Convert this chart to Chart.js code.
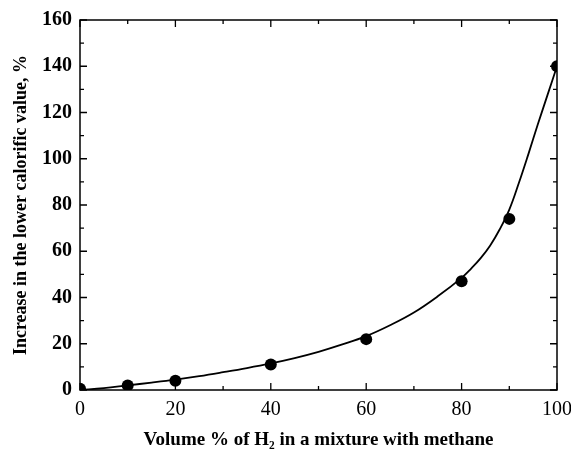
<!DOCTYPE html>
<html>
<head>
<meta charset="utf-8">
<script src="https://cdn.jsdelivr.net/npm/chart.js@4/dist/chart.umd.min.js"></script>
<style>
  html, body { margin: 0; padding: 0; background: #fff; }
  #wrap { width: 571px; height: 454px; position: relative; }
</style>
</head>
<body>
<div id="wrap"><canvas id="c" width="571" height="454"></canvas></div>
<script>
// Measured points: volume % of H2 vs increase in lower calorific value (%)
const hydrogenPct = [0, 10, 20, 40, 60, 80, 90, 100];
const lcvIncrease = [0.5, 2, 4, 11, 22, 47, 74, 140];

// Fitted curve
const fitX = [0, 5, 10, 15, 20, 25, 30, 35, 40, 45, 50, 55, 60, 65, 70, 75, 80, 82, 84, 86, 88, 90, 92, 94, 96, 98, 100];
const fitY = [0, 0.8, 2, 3.2, 4.5, 6, 7.7, 9.5, 11.5, 13.8, 16.5, 19.7, 23.3, 28, 33.5, 40.5, 48.5, 52.5, 57, 62.5, 69.5, 78, 89.5, 102, 115, 127.5, 140];

// Axis ticks
const xMajorTicks = [0, 20, 40, 60, 80, 100];
const xMinorTicks = [10, 30, 50, 70, 90];
const yMajorTicks = [0, 20, 40, 60, 80, 100, 120, 140, 160];
const yMinorTicks = [10, 30, 50, 70, 90, 110, 130, 150];

const xTitle = 'Volume % of H\u2082 in a mixture with methane';
const yTitle = 'Increase in the lower calorific value, %';

const boxPlugin = {
  id: 'boxTicks',
  afterDraw(chart) {
    const { ctx, chartArea: a, scales: { x, y } } = chart;
    ctx.save();
    ctx.strokeStyle = '#000';
    ctx.lineWidth = 1.5;
    ctx.strokeRect(a.left, a.top, a.right - a.left, a.bottom - a.top);
    ctx.lineWidth = 1.3;
    ctx.beginPath();
    const tx = (v, len) => {
      const px = x.getPixelForValue(v);
      ctx.moveTo(px, a.bottom); ctx.lineTo(px, a.bottom - len);
      ctx.moveTo(px, a.top); ctx.lineTo(px, a.top + len);
    };
    const ty = (v, len) => {
      const py = y.getPixelForValue(v);
      ctx.moveTo(a.left, py); ctx.lineTo(a.left + len, py);
      ctx.moveTo(a.right, py); ctx.lineTo(a.right - len, py);
    };
    xMajorTicks.forEach(v => tx(v, 7));
    xMinorTicks.forEach(v => tx(v, 4));
    yMajorTicks.forEach(v => ty(v, 7));
    yMinorTicks.forEach(v => ty(v, 4));
    ctx.stroke();
    ctx.restore();
  }
};

new Chart(document.getElementById('c'), {
  type: 'scatter',
  data: {
    datasets: [
      {
        label: 'fit',
        data: fitX.map((v, i) => ({ x: v, y: fitY[i] })),
        showLine: true,
        borderColor: '#000',
        borderWidth: 1.8,
        pointRadius: 0,
        tension: 0.4,
        clip: 0,
        order: 2
      },
      {
        label: 'data',
        data: hydrogenPct.map((v, i) => ({ x: v, y: lcvIncrease[i] })),
        showLine: false,
        backgroundColor: '#000',
        borderColor: '#000',
        pointRadius: 6,
        pointBorderWidth: 0,
        clip: 0,
        order: 1
      }
    ]
  },
  options: {
    responsive: false,
    animation: false,
    devicePixelRatio: 1,
    layout: { padding: { top: 20, right: 14, left: 0, bottom: 0 } },
    plugins: { legend: { display: false }, tooltip: { enabled: false } },
    scales: {
      x: {
        type: 'linear', min: 0, max: 100,
        afterFit: s => { s.height = 64; s.paddingLeft = 0; s.paddingRight = 0; },
        grid: { display: false, drawTicks: false },
        border: { display: false },
        ticks: {
          stepSize: 20, padding: 8, color: '#000',
          font: { family: '"Liberation Serif", "Times New Roman", serif', size: 20 }
        },
        title: {
          display: true, text: xTitle, color: '#000',
          font: { family: '"Liberation Serif", "Times New Roman", serif', size: 19, weight: 'bold' },
          padding: { top: 0, bottom: 3 }
        }
      },
      y: {
        type: 'linear', min: 0, max: 160,
        afterFit: s => { s.width = 80; s.paddingTop = 0; s.paddingBottom = 0; },
        grid: { display: false, drawTicks: false },
        border: { display: false },
        ticks: {
          stepSize: 20, padding: 8, color: '#000',
          font: { family: '"Liberation Serif", "Times New Roman", serif', size: 20, weight: 'bold' }
        },
        title: {
          display: true, text: yTitle, color: '#000',
          font: { family: '"Liberation Serif", "Times New Roman", serif', size: 18, weight: 'bold' },
          padding: { top: 11, bottom: 0 }
        }
      }
    }
  },
  plugins: [boxPlugin]
});
</script>
</body>
</html>
